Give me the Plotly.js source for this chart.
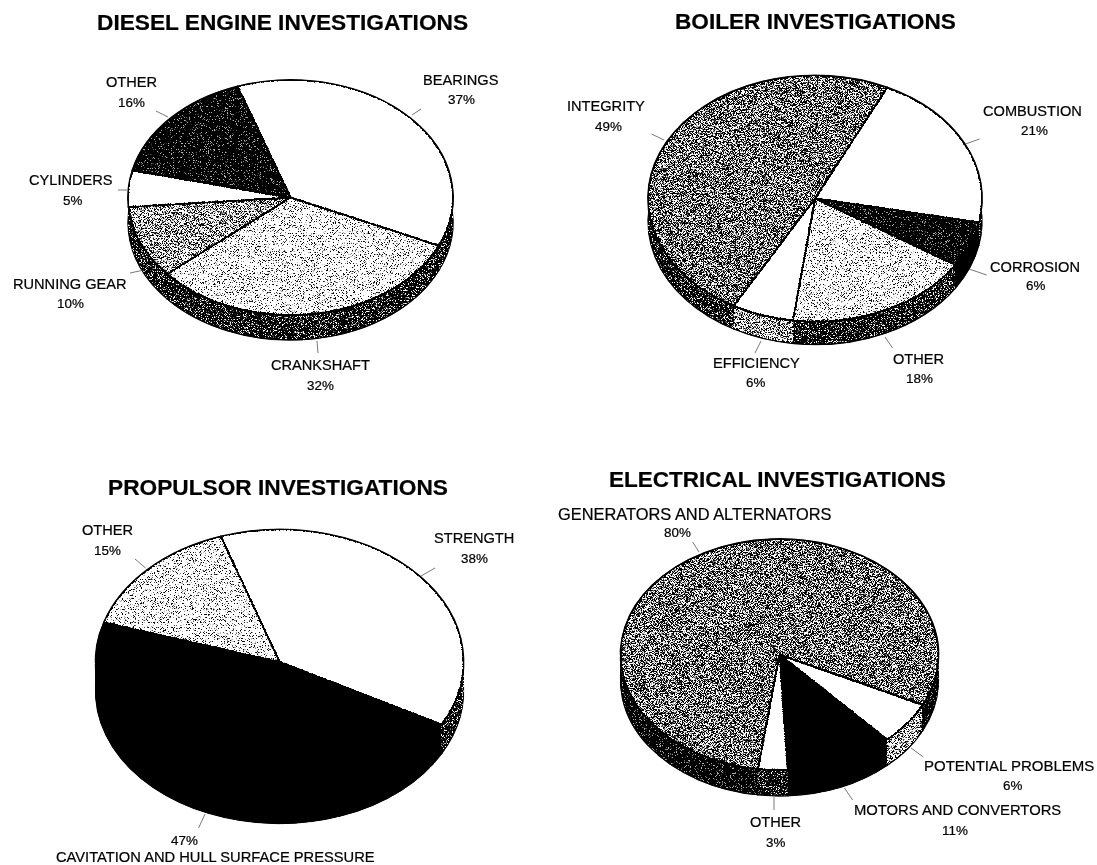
<!DOCTYPE html>
<html>
<head>
<meta charset="utf-8">
<script src="https://cdn.plot.ly/plotly-3.0.1.min.js"></script>
<style>
html,body{margin:0;padding:0;background:#fff}
#chart{width:1097px;height:865px}
.pielayer{filter:url(#halftone)}
.pielayer path{vector-effect:non-scaling-stroke}
.annotation-text{stroke:#000;stroke-width:.22px}
</style>
</head>
<body>
<!-- Stochastic screen: greys turn into fine stipple, pure black and white stay solid -->
<svg width="0" height="0" style="position:absolute">
  <filter id="halftone" filterUnits="userSpaceOnUse" x="0" y="0" width="1097" height="865" color-interpolation-filters="sRGB">
    <feTurbulence type="fractalNoise" baseFrequency="1.37" numOctaves="1" seed="7" result="raw"/>
    <feColorMatrix in="raw" type="matrix" values="1 0 0 0 0  1 0 0 0 0  1 0 0 0 0  0 0 0 0 1" result="grey"/>
    <feComponentTransfer in="grey" result="noise">
      <feFuncR type="linear" slope="3" intercept="-1"/>
      <feFuncG type="linear" slope="3" intercept="-1"/>
      <feFuncB type="linear" slope="3" intercept="-1"/>
    </feComponentTransfer>
    <feComposite in="SourceGraphic" in2="noise" operator="arithmetic" k1="0" k2="1" k3="0.8" k4="-0.4" result="sum"/>
    <feComponentTransfer in="sum" result="screened">
      <feFuncR type="linear" slope="5" intercept="-2"/>
      <feFuncG type="linear" slope="5" intercept="-2"/>
      <feFuncB type="linear" slope="5" intercept="-2"/>
    </feComponentTransfer>
    <feComposite in="screened" in2="SourceAlpha" operator="in" result="clipped"/>
    <feGaussianBlur in="clipped" stdDeviation="0.42"/>
  </filter>
</svg>
<div id="chart"></div>
<script>
// Investigation shares, in percent, listed clockwise from each pie's first slice
const dieselLabels = ['BEARINGS', 'CRANKSHAFT', 'RUNNING GEAR', 'CYLINDERS', 'OTHER'];
const dieselValues = [37, 32, 10, 5, 16];
const boilerLabels = ['COMBUSTION', 'CORROSION', 'OTHER', 'EFFICIENCY', 'INTEGRITY'];
const boilerValues = [21, 6, 18, 6, 49];
const propulsorLabels = ['STRENGTH', 'CAVITATION AND HULL SURFACE PRESSURE', 'OTHER'];
const propulsorValues = [38, 47, 15];
const electricalLabels = ['POTENTIAL PROBLEMS', 'MOTORS AND CONVERTORS', 'OTHER', 'GENERATORS AND ALTERNATORS'];
const electricalValues = [6, 11, 3, 80];

const W = 1097, H = 865;
const FONT = '"Liberation Sans", Arial, sans-serif';

// Grey levels fed to the stipple screen
const SHADES = {
  white: '#ffffff', light: '#c8c8c8', mid: '#929292', heavy: '#787878',
  dark: '#444444', specks: '#242424', black: '#000000'
};

// Geometry of each tilted pie and the positions of its captions, in page pixels
const pies = [
  {
    title: 'DIESEL ENGINE INVESTIGATIONS', titleAt: [282.5, 22], titleSize: 22.7,
    labels: dieselLabels, values: dieselValues, nameSize: [14.6, 14.6, 14.6, 14.6, 14.6],
    cx: 290.5, cy: 197.5, r: 162.5, tilt: 0.723, depth: 25, rotation: -19,
    top: ['white', 'light', 'mid', 'white', 'specks'],
    side: ['dark', 'dark', 'dark', 'dark', 'dark'],
    nameAt: [[461, 80], [320, 365], [70, 284], [71, 180], [131, 82]],
    pctAt: [[461, 100], [320, 385], [70, 303], [72, 200], [131, 102]],
    leaders: [[412, 115, 421, 109], [317, 341, 318, 353], [144, 270, 130, 273], [127, 190, 118, 190], [168, 117, 156, 111]]
  },
  {
    title: 'BOILER INVESTIGATIONS', titleAt: [815, 22], titleSize: 22.6,
    labels: boilerLabels, values: boilerValues, nameSize: [14.6, 14.6, 14.6, 14.6, 14.6],
    cx: 815, cy: 198.5, r: 167, tilt: 0.737, depth: 23, rotation: 25.6,
    top: ['white', 'specks', 'light', 'white', 'heavy'],
    side: ['dark', 'black', 'dark', 'mid', 'dark'],
    nameAt: [[1032, 111], [1035, 267], [918, 359], [756, 363], [606, 106]],
    pctAt: [[1034, 131], [1035, 286], [919, 379], [755, 383], [608, 126]],
    leaders: [[965.5, 144, 979.6, 139], [969, 269, 986.6, 275], [885, 337, 892.6, 348], [761, 341, 755, 353], [664, 140, 651.5, 134]]
  },
  {
    title: 'PROPULSOR INVESTIGATIONS', titleAt: [278, 487], titleSize: 22.7,
    labels: propulsorLabels, values: propulsorValues, nameSize: [14.6, 14.7, 14.6],
    cx: 279.5, cy: 662, r: 184, tilt: 0.72, depth: 29, rotation: -18.6,
    top: ['white', 'black', 'light'],
    side: ['dark', 'black', 'dark'],
    nameAt: [[474, 538], [215, 857], [107, 530]],
    pctAt: [[474, 558], [184, 840], [107, 550]],
    leaders: [[421, 576, 435, 568], [205, 814, 198.6, 828], [145.6, 568, 135, 559]]
  },
  {
    title: 'ELECTRICAL INVESTIGATIONS', titleAt: [777, 480], titleSize: 22.5,
    labels: electricalLabels, values: electricalValues, nameSize: [15, 14.8, 14.6, 16.4],
    cx: 779.5, cy: 654.5, r: 159, tilt: 0.726, depth: 26, rotation: 115.8,
    top: ['white', 'black', 'white', 'heavy'],
    side: ['mid', 'black', 'dark', 'specks'],
    nameAt: [[1009, 765], [957, 810], [775, 822], [695, 514]],
    pctAt: [[1012, 785], [955, 830], [775, 842], [677, 532]],
    leaders: [[911, 748, 923.4, 757], [844.5, 788, 852.6, 800], [774, 797, 774, 810], [699, 552, 692.6, 542]]
  }
];

const px = x => x / W;
const py = y => 1 - y / H;

function pieTrace(p, shadeNames, outline) {
  return {
    type: 'pie', sort: false, direction: 'clockwise', rotation: p.rotation,
    labels: p.labels, values: p.values,
    domain: { x: [px(p.cx - p.r), px(p.cx + p.r)], y: [py(p.cy + p.r), py(p.cy - p.r)] },
    textinfo: 'none', hoverinfo: 'skip', showlegend: false,
    marker: { colors: shadeNames.map(n => SHADES[n]), line: { color: '#000', width: outline } }
  };
}

// Each pie is a stack of identical layers: the side wall first, deepest layer
// outlined, and the top face last. The offsets are applied after drawing.
const traces = [], placements = [];
pies.forEach(p => {
  for (let d = p.depth; d >= 1; d--) {
    traces.push(pieTrace(p, p.side, d === p.depth ? 1.4 : 0));
    placements.push({ cy: p.cy, k: p.tilt, shift: d });
  }
  traces.push(pieTrace(p, p.top, 1.9));
  placements.push({ cy: p.cy, k: p.tilt, shift: 0 });
});

const annotations = [], shapes = [];
function caption(text, at, size, bold) {
  annotations.push({
    xref: 'paper', yref: 'paper', x: px(at[0]), y: py(at[1]),
    xanchor: 'center', yanchor: 'middle', showarrow: false,
    text: bold ? '<b>' + text + '</b>' : text,
    font: { family: FONT, size: size, color: '#000' }
  });
}
pies.forEach(p => {
  caption(p.title, p.titleAt, p.titleSize, true);
  p.labels.forEach((name, i) => {
    caption(name, p.nameAt[i], p.nameSize[i], false);
    caption(p.values[i] + '%', p.pctAt[i], 13.4, false);
    const l = p.leaders[i];
    shapes.push({
      type: 'line', xref: 'paper', yref: 'paper', layer: 'above',
      x0: px(l[0]), y0: py(l[1]), x1: px(l[2]), y1: py(l[3]),
      line: { color: '#555', width: 0.8 }
    });
  });
});

const layout = {
  width: W, height: H, margin: { l: 0, r: 0, t: 0, b: 0 },
  paper_bgcolor: '#fff', plot_bgcolor: '#fff', showlegend: false,
  annotations: annotations, shapes: shapes
};

// Squash every circular pie into its perspective ellipse
function applyTilt(gd) {
  gd.querySelectorAll('.pielayer .trace').forEach((g, i) => {
    const t = placements[i];
    g.setAttribute('transform',
      'translate(0,' + (t.cy + t.shift) + ') scale(1,' + t.k + ') translate(0,' + (-t.cy) + ')');
  });
}

const gd = document.getElementById('chart');
Plotly.newPlot(gd, traces, layout, { displayModeBar: false, staticPlot: true }).then(() => applyTilt(gd));
</script>
</body>
</html>
